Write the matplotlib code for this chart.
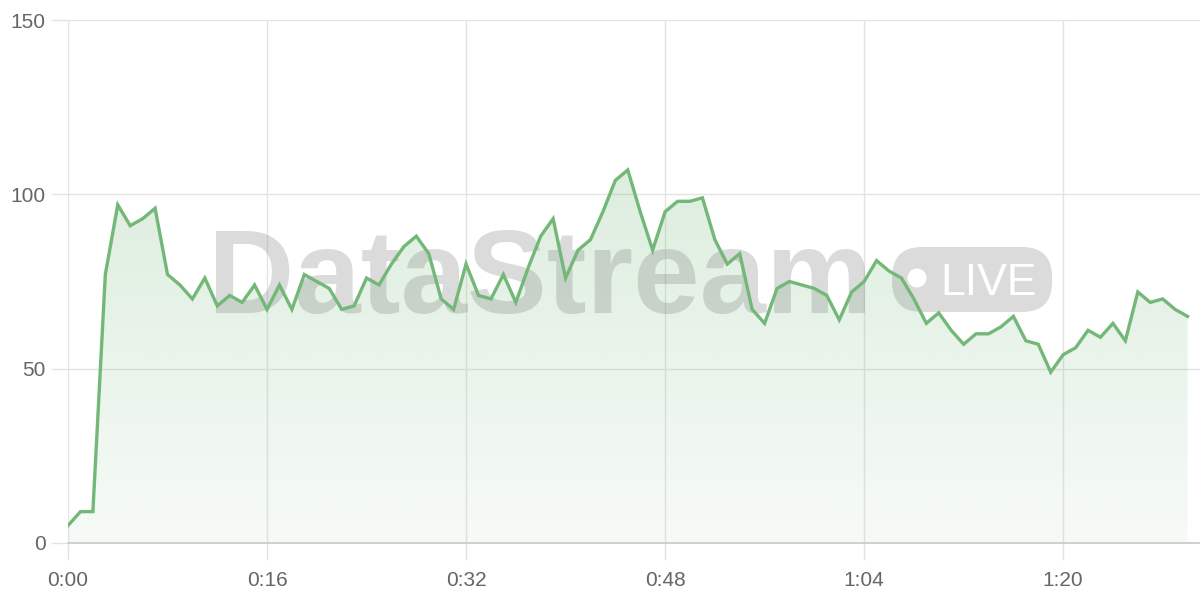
import matplotlib.pyplot as plt
import numpy as np
from matplotlib.patches import FancyBboxPatch, Ellipse
from matplotlib.ticker import FuncFormatter

plt.rcParams['font.family'] = ['Liberation Sans', 'DejaVu Sans']

# one reading per second
seconds = list(range(91))
values = [5, 9, 9, 77, 97, 91, 93, 96, 77, 74,
          70, 76, 68, 71, 69, 74, 67, 74, 67, 77,
          75, 73, 67, 68, 76, 74, 80, 85, 88, 83,
          70, 67, 80, 71, 70, 77, 69, 79, 88, 93,
          76, 84, 87, 95, 104, 107, 95, 84, 95, 98,
          98, 99, 87, 80, 83, 67, 63, 73, 75, 74,
          73, 71, 64, 72, 75, 81, 78, 76, 70, 63,
          66, 61, 57, 60, 60, 62, 65, 58, 57, 49,
          54, 56, 61, 59, 63, 58, 72, 69, 70, 67,
          65]
x_ticks = [0, 16, 32, 48, 64, 80]
y_ticks = [0, 50, 100, 150]

line_color = '#73b878'
grid_color = '#e4e4e4'
text_color = '#666666'

fig = plt.figure(figsize=(12, 6), dpi=100)
ax = fig.add_axes([68 / 1200, 57 / 600, 1132 / 1200, 523 / 600])

ax.set_xlim(0, 91)
ax.set_ylim(0, 150)

# gradient fill under the line
x = np.array(seconds)
y = np.array(values)
poly = ax.fill_between(x, 0, y, color='none', lw=0)
grad = np.zeros((256, 1, 4))
rgb = np.array([115, 184, 120]) / 255
grad[:, 0, :3] = rgb
grad[:, 0, 3] = np.linspace(0.26, 0.06, 256)
img = ax.imshow(grad, aspect='auto', extent=[0, 90, 0, 115], origin='upper', zorder=2)
img.set_clip_path(poly.get_paths()[0], transform=ax.transData)

# watermark
wm = dict(color='#808080', alpha=0.28, zorder=3)
ax.text(0.1237, 0.4398, 'DataStream', transform=ax.transAxes, fontsize=86,
        fontweight='bold', ha='left', va='baseline', **wm)
pill = FancyBboxPatch((0.728, 0.4417), 0.1413, 0.1243, transform=ax.transAxes,
                      boxstyle='round,pad=0,rounding_size=0.0265',
                      mutation_aspect=1132 / 523, facecolor='#808080',
                      edgecolor='none', alpha=0.28, zorder=3)
ax.add_patch(pill)
ax.add_patch(Ellipse((0.7500, 0.5067), 19 / 1132, 19 / 523, transform=ax.transAxes,
                     facecolor='white', edgecolor='none', zorder=3))
ax.text(0.771, 0.474, 'LIVE', transform=ax.transAxes, fontsize=32,
        color='white', ha='left', va='baseline', zorder=3)

ax.plot(x, y, color=line_color, lw=2.4, zorder=4, solid_joinstyle='miter')

ax.set_xticks(x_ticks)
ax.set_yticks(y_ticks)
ax.xaxis.set_major_formatter(FuncFormatter(lambda v, p: f'{int(v) // 60}:{int(v) % 60:02d}'))
ax.grid(True, color=grid_color, lw=1, zorder=0)
ax.set_axisbelow(True)
ax.tick_params(axis='both', length=12, width=1, color=grid_color,
               labelsize=15, labelcolor=text_color)
ax.tick_params(axis='y', pad=4)
ax.tick_params(axis='x', pad=8)
for s in ['top', 'right', 'left']:
    ax.spines[s].set_visible(False)
ax.spines['bottom'].set_color('#cccccc')
ax.spines['bottom'].set_linewidth(1.3)

plt.savefig('out.png', dpi=100)
